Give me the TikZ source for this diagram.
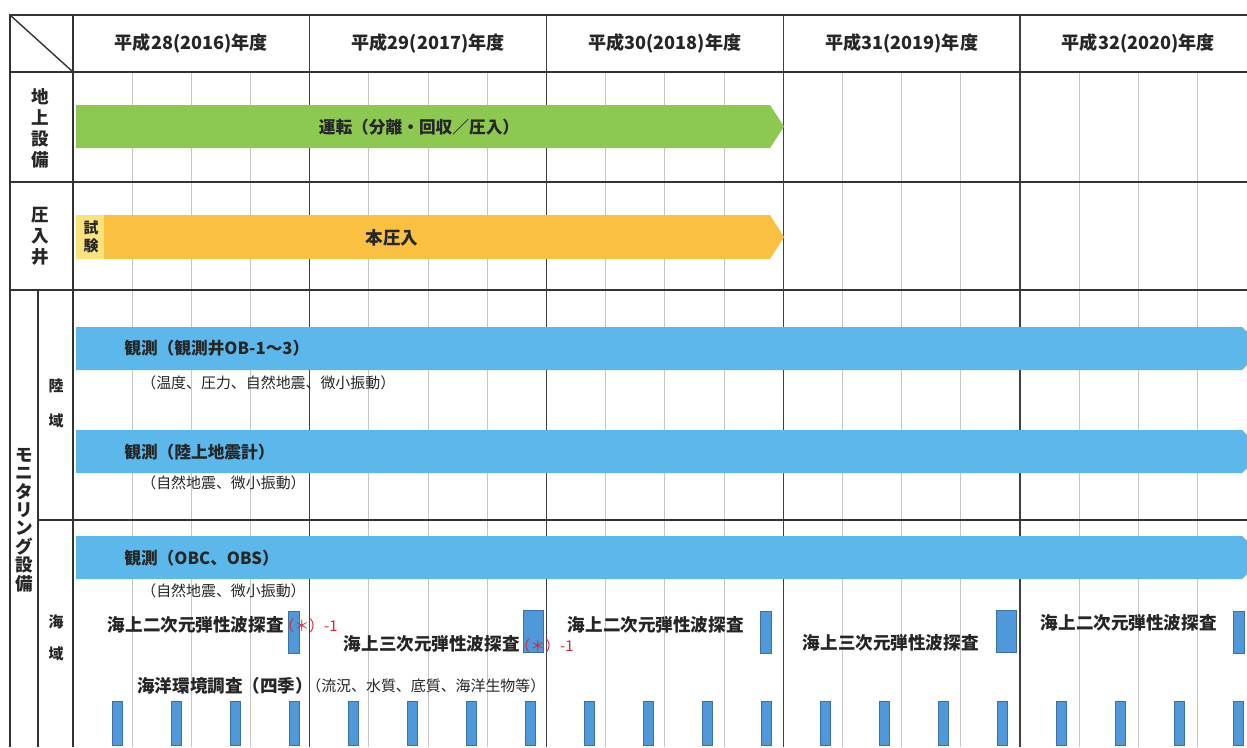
\documentclass[tikz,border=0pt]{standalone}
\usepackage{fontspec}
\setmainfont{Noto Sans CJK JP}
\usetikzlibrary{positioning}

\definecolor{gbarc}{RGB}{141,201,80}
\definecolor{obarc}{RGB}{249,192,66}
\definecolor{shikenc}{RGB}{250,226,125}
\definecolor{bbarc}{RGB}{92,184,234}
\definecolor{sbarc}{RGB}{79,152,218}
\definecolor{redc}{RGB}{214,40,60}

\begin{document}
\begin{tikzpicture}[x=0.02cm, y=-0.02cm, >=stealth]
        \useasboundingbox (0,0) rectangle (1247,747);
        \clip (0,0) rectangle (1247,747);
        \fill[white] (0,0) rectangle (1247,747);

        \tikzstyle{every node}=[inner sep=0pt, text=black!85]
        \tikzstyle{quarter}=[draw, gray!45, line width=0.6pt]
        \tikzstyle{yearline}=[draw, black!75, line width=0.7pt]
        \tikzstyle{frame}=[draw, black!80, line width=0.8pt]

        % Grid
        \foreach \k in {1,...,19}
          \draw[quarter] ({73+\k*236.75/4},72) -- ({73+\k*236.75/4},747);
        \foreach \k in {1,...,4}
          \draw[yearline] ({73+\k*236.75},15) -- ({73+\k*236.75},747);
        \draw[frame] (10,747) -- (10,15) -- (1247,15);
        \draw[frame] (10,72) -- (1247,72);
        \draw[frame] (73,15) -- (73,747);
        \draw[frame] (10,182) -- (1247,182);
        \draw[frame] (10,290) -- (1247,290);
        \draw[frame] (38,290) -- (38,747);
        \draw[frame] (38,520) -- (1247,520);
        \draw[frame] (10,15) -- (73,72);

        % Header
        \tikzstyle{yearlabel}=[font=\fontsize{10.3}{12}\selectfont\bfseries]
        \foreach \i/\hs/\ad in {0/28/2016, 1/29/2017, 2/30/2018, 3/31/2019, 4/32/2020}
          \node[yearlabel] (year\i) at ({73+236.75*(\i+0.5)},43) {平成\hs(\ad)年度};

        % Row labels
        \tikzstyle{rowlabel}=[align=center, font=\fontsize{10}{12}\selectfont\bfseries]
        \node[rowlabel] (tijo) at (40,128) {地\\上\\設\\備};
        \node[rowlabel] (atsu) at (40,236) {圧\\入\\井};
        \node[rowlabel, font=\fontsize{10}{10.5}\selectfont\bfseries] (moni) at (24,520) {モ\\ニ\\タ\\リ\\ン\\グ\\設\\備};
        \node[rowlabel, font=\fontsize{8.5}{20}\selectfont\bfseries] (riku) at (56,403) {陸\\域};
        \node[rowlabel, font=\fontsize{8.5}{18}\selectfont\bfseries] (kai) at (56,638) {海\\域};

        % Bars
        \tikzstyle{barlabel}=[font=\fontsize{9.5}{11}\selectfont\bfseries, anchor=west]
        \tikzstyle{note}=[font=\fontsize{8.5}{10}\selectfont, anchor=west]
        \fill[gbarc] (76,105) -- (770,105) -- (784,126.5) -- (770,148) -- (76,148) -- cycle;
        \node[barlabel, anchor=center] (unten) at (419,127) {運転（分離・回収／圧入）};

        \fill[obarc] (76,215) -- (770,215) -- (784,237) -- (770,259) -- (76,259) -- cycle;
        \fill[shikenc] (76,215) rectangle (104,259);
        \node[rowlabel, font=\fontsize{8.5}{10.5}\selectfont\bfseries] (shiken) at (91,237) {試\\験};
        \node[barlabel, font=\fontsize{10}{11}\selectfont\bfseries, anchor=center] (honatsu) at (392,238) {本圧入};

        \foreach \t in {327,430,536}
          \fill[bbarc] (76,\t) -- (1242,\t) -- (1264,\t+21.5) -- (1242,\t+43) -- (76,\t+43) -- cycle;
        \node[barlabel] (obs1) at (124,348) {観測（観測井OB-1～3）};
        \node[note] (obs1sub) at (141,383) {（温度、圧力、自然地震、微小振動）};
        \node[barlabel] (obs2) at (124,452) {観測（陸上地震計）};
        \node[note] (obs2sub) at (141,483) {（自然地震、微小振動）};
        \node[barlabel] (obs3) at (124,558) {観測（OBC、OBS）};
        \node[note] (obs3sub) at (141,591) {（自然地震、微小振動）};

        % Seismic surveys
        \tikzstyle{sbar}=[fill=sbarc, draw=sbarc!75!black, line width=0.4pt]
        \tikzstyle{survey}=[font=\fontsize{10}{11}\selectfont\bfseries, anchor=east]
        \tikzstyle{rednote}=[font=\fontsize{8.5}{10}\selectfont, text=redc, anchor=west]
        \draw[sbar] (288,611) rectangle (299,653);
        \draw[sbar] (523,610) rectangle (543,652);
        \draw[sbar] (760,611) rectangle (771,653);
        \draw[sbar] (996,610) rectangle (1016,652);
        \draw[sbar] (1233,611) rectangle (1244,653);
        \node[survey] (seis1) at (284,625) {海上二次元弾性波探査};
        \node[rednote] (ast1) at (279,626) {（＊）-1};
        \node[survey] (seis2) at (520,644) {海上三次元弾性波探査};
        \node[rednote] (ast2) at (515,646) {（＊）-1};
        \node[survey] (seis3) at (744,625) {海上二次元弾性波探査};
        \node[survey] (seis4) at (979,643) {海上三次元弾性波探査};
        \node[survey] (seis5) at (1217,623) {海上二次元弾性波探査};

        % Environmental survey
        \node[survey, anchor=west] (env) at (137,686) {海洋環境調査（四季）};
        \node[note] (envsub) at (306,686) {（流況、水質、底質、海洋生物等）};
        \foreach \k in {0,...,19}
          \draw[sbar] ({112+59*\k},701) rectangle ({122+59*\k},745);

      \end{tikzpicture}
\end{document}
